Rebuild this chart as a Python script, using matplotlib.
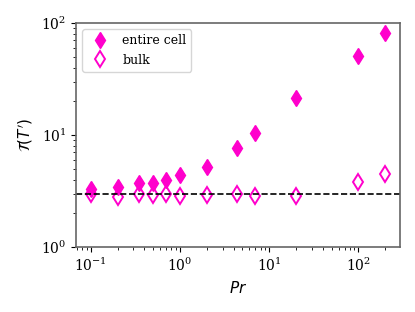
import matplotlib
matplotlib.use("Agg")
from matplotlib import pyplot as plt

plt.rcParams["font.family"] = "DejaVu Serif"
plt.rcParams["mathtext.fontset"] = "dejavusans"

pr = [0.1, 0.2, 0.35, 0.5, 0.7, 1, 2, 4.4, 7, 20, 100, 200]
entire_cell = [3.27, 3.41, 3.73, 3.73, 3.96, 4.39, 5.14, 7.7, 10.5, 21.4, 51, 81]
bulk = [2.97, 2.81, 2.97, 2.93, 3.0, 2.86, 2.93, 3.0, 2.86, 2.85, 3.78, 4.51]
ref_level = 3.0

pink = "#ff00cc"

fig = plt.figure(figsize=(4.15, 3.12), dpi=100)
ax = fig.add_axes([76 / 415, 1 - 247 / 312, 324 / 415, 224 / 312])

ax.plot(pr, entire_cell, "d", color=pink, markersize=8.5, label="entire cell")
ax.plot(pr, bulk, "d", color=pink, markerfacecolor="none", markeredgewidth=1.4,
        markersize=8.5, label="bulk")
ax.axhline(ref_level, color="black", linestyle="--", linewidth=1.2)

ax.set_xscale("log")
ax.set_yscale("log")
ax.set_ylim(1, 100)

ax.set_xlabel(r"$Pr$", fontsize=11)
ax.set_ylabel(r"$\mathcal{T}(T')$", fontsize=11)
ax.tick_params(labelsize=10)

for s in ax.spines.values():
    s.set_color("#666666")
    s.set_linewidth(1.2)

ax.legend(loc="upper left", fontsize=9)

fig.savefig("out.png", dpi=100)
